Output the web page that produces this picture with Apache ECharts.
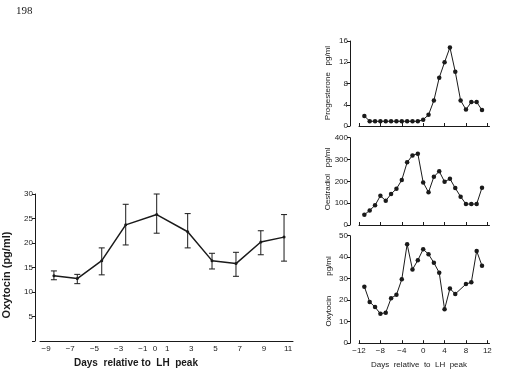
<!DOCTYPE html>
<html><head><meta charset="utf-8">
<script src="https://cdn.jsdelivr.net/npm/echarts@6/dist/echarts.min.js"></script>
<style>html,body{margin:0;padding:0;background:#fff}#c{width:527px;height:382px}</style>
</head><body><div id="c"></div>
<script>
// ---- Left panel: mean oxytocin with error bars ----
const leftDays  = [-8.35, -6.42, -4.40, -2.42, 0.14, 2.70, 4.71, 6.69, 8.74, 10.66];
const leftMean  = [13.3, 12.75, 16.4, 23.7, 25.8, 22.3, 16.4, 15.8, 20.2, 21.2];
const leftUpper = [14.3, 13.6, 19.0, 27.9, 30.0, 26.0, 17.9, 18.1, 22.5, 25.8];
const leftLower = [12.5, 11.7, 13.5, 19.6, 22.0, 19.0, 14.7, 13.2, 17.6, 16.3];
const leftXTicks = [-9, -7, -5, -3, -1, 0, 1, 3, 5, 7, 9, 11];

// ---- Right panels: single cycle, daily samples ----
const rightDays = [-11,-10,-9,-8,-7,-6,-5,-4,-3,-2,-1,0,1,2,3,4,5,6,7,8,9,10,11];
const progesterone = [1.9,0.9,0.9,0.9,0.9,0.9,0.9,0.9,0.9,0.9,0.9,1.2,2.1,4.8,9.1,12.0,14.8,10.2,4.8,3.1,4.5,4.5,3.0];
const oestradiol = [47,67,90,134,111,142,166,206,287,319,327,195,150,221,246,198,212,169,130,96,96,96,171];
const oxytocinR = [26.3,19.2,16.8,13.7,14.2,20.9,22.5,29.7,46.0,34.3,38.6,43.7,41.4,37.4,32.8,15.8,25.4,22.9,null,27.5,28.3,42.9,36.0];
const rightXTicks = [-12, -8, -4, 0, 4, 8, 12];

const INK = '#1a1a1a';
const FONT = 'Liberation Sans, Arial, sans-serif';
const fmtNeg = v => (v < 0 ? '\u2212' + (-v) : String(v));

function pairs(xs, ys) { return xs.map((x, i) => [x, ys[i]]); }

const axisLineStyle = { show: true, onZero: false, lineStyle: { color: INK, width: 1 } };

const rightGrids = [
  { left: 359, width: 130.5, top: 41, height: 85 },
  { left: 359, width: 130.5, top: 137.7, height: 87.3 },
  { left: 359, width: 130.5, top: 235.7, height: 107.5 }
];

function rightX(idx, showLabels) {
  return {
    type: 'value', gridIndex: idx, min: -12, max: 12.4,
    axisLine: axisLineStyle,
    axisTick: { show: true, inside: true, length: 3, customValues: rightXTicks, lineStyle: { color: INK } },
    axisLabel: { show: showLabels, customValues: rightXTicks, formatter: fmtNeg, fontSize: 8, color: INK, margin: 4, fontFamily: FONT },
    splitLine: { show: false }
  };
}
function rightY(idx, max, interval) {
  return {
    type: 'value', gridIndex: idx, min: 0, max: max, interval: interval, offset: 9,
    axisLine: axisLineStyle,
    axisTick: { show: true, length: 3, lineStyle: { color: INK } },
    axisLabel: { fontSize: 8, color: INK, margin: 2, fontFamily: FONT },
    splitLine: { show: false }
  };
}
function rightSeries(idx, ys) {
  return {
    type: 'line', xAxisIndex: idx, yAxisIndex: idx,
    data: pairs(rightDays, ys), connectNulls: true,
    symbol: 'circle', symbolSize: 4.5, showSymbol: true,
    lineStyle: { color: INK, width: 1 }, itemStyle: { color: INK },
    animation: false
  };
}

const option = {
  animation: false,
  backgroundColor: '#fff',
  grid: [
    { left: 40, width: 253, top: 194, height: 147 },
    ...rightGrids
  ],
  xAxis: [
    {
      type: 'value', gridIndex: 0, min: -9.5, max: 11.4,
      axisLine: axisLineStyle,
      axisTick: { show: false },
      axisLabel: { customValues: leftXTicks, formatter: fmtNeg, fontSize: 8, color: INK, margin: 4, fontFamily: FONT },
      splitLine: { show: false }
    },
    rightX(1, false), rightX(2, false), rightX(3, true)
  ],
  yAxis: [
    {
      type: 'value', gridIndex: 0, min: 0, max: 30, interval: 5, offset: 5,
      axisLine: axisLineStyle,
      axisTick: { show: true, length: 3, lineStyle: { color: INK } },
      axisLabel: { formatter: v => (v === 0 ? '' : String(v)), fontSize: 8, color: INK, margin: 2, fontFamily: FONT },
      splitLine: { show: false }
    },
    rightY(1, 16, 4), rightY(2, 400, 100), rightY(3, 50, 10)
  ],
  series: [
    {
      type: 'custom', xAxisIndex: 0, yAxisIndex: 0,
      data: leftDays.map((d, i) => [d, leftLower[i], leftUpper[i]]),
      encode: { x: 0, y: [1, 2] },
      renderItem: function (params, api) {
        const x = api.value(0);
        const lo = api.coord([x, api.value(1)]);
        const hi = api.coord([x, api.value(2)]);
        const w = 3;
        const st = { stroke: INK, lineWidth: 1 };
        return {
          type: 'group', children: [
            { type: 'line', shape: { x1: lo[0], y1: lo[1], x2: hi[0], y2: hi[1] }, style: st },
            { type: 'line', shape: { x1: hi[0] - w, y1: hi[1], x2: hi[0] + w, y2: hi[1] }, style: st },
            { type: 'line', shape: { x1: lo[0] - w, y1: lo[1], x2: lo[0] + w, y2: lo[1] }, style: st }
          ]
        };
      },
      z: 1
    },
    {
      type: 'line', xAxisIndex: 0, yAxisIndex: 0,
      data: pairs(leftDays, leftMean),
      symbol: 'circle', symbolSize: 3,
      lineStyle: { color: INK, width: 1.5 }, itemStyle: { color: INK },
      z: 2
    },
    rightSeries(1, progesterone),
    rightSeries(2, oestradiol),
    rightSeries(3, oxytocinR)
  ],
  graphic: [
    { type: 'text', x: 16, y: 6, style: { text: '198', fill: INK, font: '11px Liberation Serif, serif' } },
    { type: 'text', x: 7, y: 275, rotation: Math.PI / 2,
      style: { text: 'Oxytocin (pg/ml)', fill: INK, font: 'bold 11px ' + FONT, align: 'center', verticalAlign: 'middle' } },
    { type: 'text', x: 136, y: 363,
      style: { text: 'Days  relative to  LH  peak', fill: INK, font: 'bold 10px ' + FONT, align: 'center', verticalAlign: 'middle' } },
    { type: 'text', x: 328, y: 83, rotation: Math.PI / 2,
      style: { text: 'Progesterone   pg/ml', fill: INK, font: '8px ' + FONT, align: 'center', verticalAlign: 'middle' } },
    { type: 'text', x: 328, y: 179, rotation: Math.PI / 2,
      style: { text: 'Oestradiol   pg/ml', fill: INK, font: '8px ' + FONT, align: 'center', verticalAlign: 'middle' } },
    { type: 'text', x: 329, y: 311, rotation: Math.PI / 2,
      style: { text: 'Oxytocin', fill: INK, font: '8px ' + FONT, align: 'center', verticalAlign: 'middle' } },
    { type: 'text', x: 329, y: 266, rotation: Math.PI / 2,
      style: { text: 'pg/ml', fill: INK, font: '8px ' + FONT, align: 'center', verticalAlign: 'middle' } },
    { type: 'text', x: 419, y: 365,
      style: { text: 'Days  relative  to  LH  peak', fill: INK, font: '8px ' + FONT, align: 'center', verticalAlign: 'middle' } }
  ]
};

const chart = echarts.init(document.getElementById('c'), null, { renderer: 'canvas' });
chart.setOption(option);
</script>
</body></html>
